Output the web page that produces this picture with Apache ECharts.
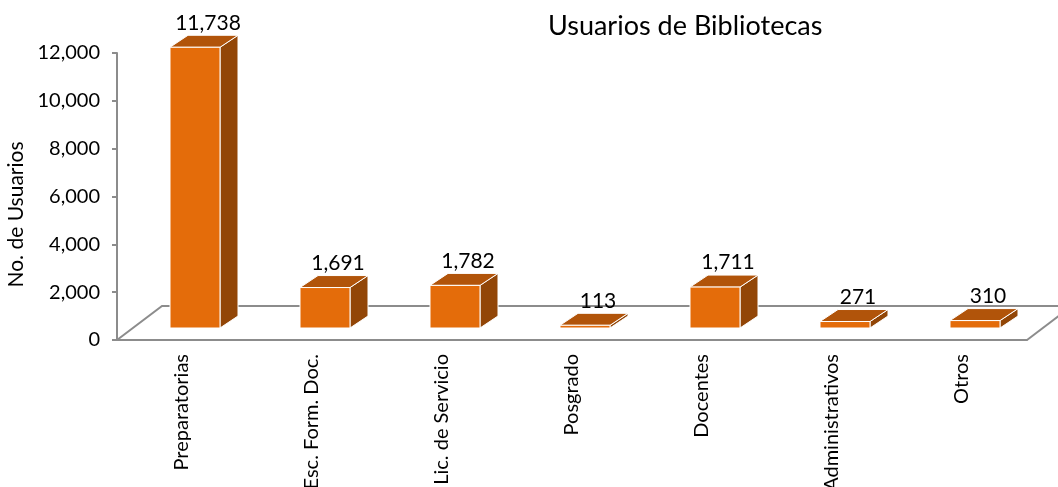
<!DOCTYPE html>
<html>
<head>
<meta charset="utf-8">
<script src="https://cdn.jsdelivr.net/npm/echarts@6/dist/echarts.min.js"></script>
<style>
  html, body { margin: 0; padding: 0; background: #fff; }
  #chart { width: 1058px; height: 487px; }
</style>
</head>
<body>
<div id="chart"></div>
<script>
// datos del grafico
let categorias = ['Preparatorias', 'Esc. Form. Doc.', 'Lic. de Servicio', 'Posgrado', 'Docentes', 'Administrativos', 'Otros']
let usuarios = [11738, 1691, 1782, 113, 1711, 271, 310]
let ticksY = [0, 2000, 4000, 6000, 8000, 10000, 12000]

let FONT = 'Lato'
let BAR_W = 50
let OFF_X = 13, OFF_Y = -12      // desplazamiento de la cara frontal sobre el piso
let DEP_X = 18, DEP_Y = -12      // profundidad de la barra
let FLOOR_X = 45, FLOOR_Y = -34  // profundidad del piso

let chart = echarts.init(document.getElementById('chart'), null, { renderer: 'canvas' })

function fmt(v) {
  return v.toLocaleString('en-US')
}

// piso 3D
function renderFloor(params, api) {
  let cs = params.coordSys
  let xl = cs.x, xr = cs.x + cs.width, yb = cs.y + cs.height
  let st = { stroke: '#8c8c8c', lineWidth: 2, fill: null }
  return {
    type: 'group',
    children: [
      { type: 'polyline', shape: { points: [[xl, yb], [xl + FLOOR_X, yb + FLOOR_Y], [xr + FLOOR_X, yb + FLOOR_Y]] }, style: st },
      { type: 'line', shape: { x1: xr, y1: yb, x2: xr + FLOOR_X, y2: yb + FLOOR_Y }, style: st }
    ]
  }
}

// barra 3D: frente, tapa, lado
function renderBar(params, api) {
  let idx = api.value(0)
  let val = api.value(1)
  let base = api.coord([idx, 0])
  let tope = api.coord([idx, val])
  let x0 = base[0] + OFF_X - BAR_W / 2
  let x1 = x0 + BAR_W
  let yb = base[1] + OFF_Y
  let yt = tope[1] + OFF_Y
  let borde = { stroke: '#ffffff', lineWidth: 1 }
  return {
    type: 'group',
    children: [
      {
        type: 'polygon',
        shape: { points: [[x1, yt], [x1 + DEP_X, yt + DEP_Y], [x1 + DEP_X, yb + DEP_Y], [x1, yb]] },
        style: Object.assign({ fill: '#924607' }, borde)
      },
      {
        type: 'polygon',
        shape: { points: [[x0, yt], [x1, yt], [x1 + DEP_X, yt + DEP_Y], [x0 + DEP_X, yt + DEP_Y]] },
        style: Object.assign({ fill: '#b1540a' }, borde)
      },
      {
        type: 'rect',
        shape: { x: x0, y: yt, width: BAR_W, height: yb - yt },
        style: Object.assign({ fill: '#e46c0a' }, borde)
      },
      {
        type: 'text',
        style: {
          text: fmt(val),
          x: (x0 + x1 + DEP_X) / 2 + 4,
          y: yt + DEP_Y - 2,
          align: 'center',
          verticalAlign: 'bottom',
          fill: '#000',
          font: '21px ' + FONT
        }
      }
    ]
  }
}

let option = {
  backgroundColor: '#ffffff',
  animation: false,
  title: {
    text: 'Usuarios de Bibliotecas',
    left: 543,
    top: 8,
    textStyle: { fontFamily: FONT, fontSize: 27, fontWeight: 'normal', color: '#000' }
  },
  grid: {
    left: 117,
    right: 31,
    top: 53,
    bottom: 147,
    containLabel: false,
    outerBoundsMode: 'none'
  },
  xAxis: {
    type: 'category',
    data: categorias,
    axisLine: { show: true, lineStyle: { color: '#8c8c8c', width: 2 } },
    axisTick: { show: false },
    axisLabel: {
      rotate: 90,
      margin: 14,
      interval: 0,
      color: '#000',
      fontFamily: FONT,
      fontSize: 20
    },
    splitLine: { show: false }
  },
  yAxis: {
    type: 'value',
    min: ticksY[0],
    max: ticksY[ticksY.length - 1],
    interval: 2000,
    name: 'No. de Usuarios',
    nameLocation: 'middle',
    nameGap: 90,
    nameRotate: 90,
    nameTextStyle: { color: '#000', fontFamily: FONT, fontSize: 21, padding: [0, 36, 0, 0] },
    axisLine: { show: true, lineStyle: { color: '#8c8c8c', width: 2 } },
    axisTick: { show: true, inside: false, length: 5, lineStyle: { color: '#8c8c8c', width: 2 } },
    axisLabel: {
      margin: 17,
      color: '#000',
      fontFamily: FONT,
      fontSize: 20,
      formatter: function (v) { return fmt(v) }
    },
    splitLine: { show: false }
  },
  series: [
    {
      type: 'custom',
      name: 'piso',
      renderItem: renderFloor,
      data: [[0, 0]],
      z: 1,
      silent: true,
      clip: false
    },
    {
      type: 'custom',
      name: 'Usuarios',
      renderItem: renderBar,
      data: usuarios.map((v, i) => [i, v]),
      z: 5,
      clip: false
    }
  ]
}

chart.setOption(option)
window.addEventListener('resize', function () {
  chart.resize()
})
</script>
</body>
</html>
